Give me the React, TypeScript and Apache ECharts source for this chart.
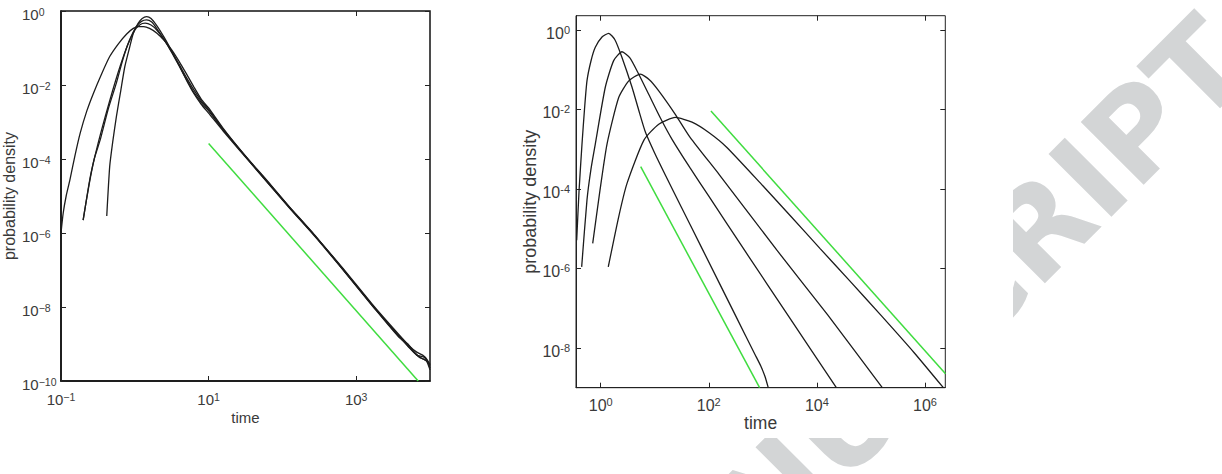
import React, { useEffect, useRef } from "react";
import * as echarts from "echarts";

// ---------- data: [log10(time), log10(probability density)] ----------
// Left panel
const leftCurveA: number[][] = [
  [-1.0, -6.0], [-0.97, -5.46], [-0.93, -5.0], [-0.88, -4.57], [-0.81, -3.9], [-0.74, -3.3],
  [-0.65, -2.7], [-0.56, -2.22], [-0.45, -1.7], [-0.34, -1.23], [-0.22, -0.88], [-0.11, -0.62],
  [-0.02, -0.47], [0.05, -0.42], [0.12, -0.42], [0.2, -0.47], [0.3, -0.6], [0.4, -0.8],
  [0.5, -1.05], [0.6, -1.36], [0.7, -1.7], [0.8, -2.05], [0.9, -2.38], [1.0, -2.62],
  [1.19, -3.15], [1.4, -3.68], [1.6, -4.15], [1.8, -4.6], [2.09, -5.29], [2.43, -6.05],
  [2.81, -6.95], [3.24, -8.0], [3.58, -8.8], [3.75, -9.15], [3.85, -9.35], [3.92, -9.42],
  [3.97, -9.5], [4.0, -9.65],
];
const leftCurveB: number[][] = [
  [-0.7, -5.65], [-0.62, -4.7], [-0.55, -4.0], [-0.47, -3.49], [-0.36, -2.65], [-0.25, -1.95],
  [-0.16, -1.3], [-0.07, -0.78], [0.02, -0.42], [0.09, -0.28], [0.16, -0.24], [0.23, -0.3],
  [0.3, -0.48], [0.4, -0.78], [0.5, -1.12], [0.6, -1.48], [0.7, -1.85], [0.8, -2.2],
  [0.9, -2.47], [1.0, -2.7], [1.2, -3.22], [1.6, -4.17], [2.09, -5.3], [2.43, -6.05],
  [2.81, -6.93], [3.24, -7.98], [3.58, -8.75], [3.72, -9.05], [3.82, -9.22], [3.9, -9.3],
  [3.96, -9.42], [4.0, -9.58],
];
const leftCurveC: number[][] = [
  [-0.38, -5.54], [-0.34, -4.2], [-0.3, -3.55], [-0.25, -2.86], [-0.19, -2.15], [-0.135, -1.5],
  [-0.07, -0.98], [-0.02, -0.6], [0.045, -0.33], [0.1, -0.2], [0.16, -0.15], [0.22, -0.2],
  [0.3, -0.4], [0.4, -0.72], [0.5, -1.08], [0.6, -1.47], [0.7, -1.87], [0.8, -2.23],
  [0.9, -2.52], [1.0, -2.76], [1.2, -3.25], [1.6, -4.18], [2.09, -5.31], [2.43, -6.07],
  [2.81, -6.97], [3.24, -8.02], [3.58, -8.82], [3.7, -9.0], [3.8, -9.25], [3.88, -9.38],
  [3.95, -9.45], [4.0, -9.7],
];
const leftCurveD: number[][] = [
  [-0.7, -5.65], [-0.6, -4.45], [-0.5, -3.6], [-0.4, -2.85], [-0.3, -2.15], [-0.2, -1.5],
  [-0.1, -0.93], [0.0, -0.52], [0.07, -0.37], [0.14, -0.33], [0.22, -0.38], [0.3, -0.52],
  [0.4, -0.78], [0.5, -1.1], [0.6, -1.44], [0.7, -1.8], [0.8, -2.13], [0.9, -2.42],
  [1.0, -2.66], [1.2, -3.2], [1.6, -4.16], [2.09, -5.28], [2.43, -6.04], [2.81, -6.96],
  [3.24, -8.01], [3.58, -8.78], [3.72, -9.1], [3.82, -9.3], [3.92, -9.36], [4.0, -9.55],
];
const leftSlope: number[][] = [[1.0, -3.58], [3.84, -10.0]];

// Right panel
const rightCurveA: number[][] = [
  [-0.444, -5.29], [-0.4, -4.03], [-0.346, -2.87], [-0.3, -2.0], [-0.254, -1.28], [-0.18, -0.78],
  [-0.1, -0.436], [0.024, -0.176], [0.148, -0.083], [0.265, -0.25], [0.394, -0.69], [0.58, -1.44],
  [0.7, -2.0], [0.83, -2.58], [1.0, -3.1], [1.2, -3.66], [1.5, -4.48], [1.876, -5.5],
  [2.5, -7.2], [2.857, -8.17], [2.96, -8.45], [3.04, -8.72], [3.1, -9.0],
];
const rightCurveB: number[][] = [
  [-0.352, -5.96], [-0.254, -4.28], [-0.18, -3.5], [-0.1, -2.87], [0.085, -1.44], [0.24, -0.77],
  [0.394, -0.547], [0.54, -0.7], [0.7, -1.1], [0.9, -1.65], [1.1, -2.2], [1.32, -2.75],
  [1.654, -3.47], [2.0, -4.18], [2.67, -5.56], [3.5, -7.25], [4.36, -9.0],
];
const rightCurveC: number[][] = [
  [-0.148, -5.37], [-0.013, -4.03], [0.117, -2.87], [0.333, -1.7], [0.52, -1.28], [0.733, -1.11],
  [0.9, -1.25], [1.074, -1.53], [1.38, -2.12], [1.654, -2.7], [2.2, -3.65], [3.26, -5.54],
  [4.2, -7.17], [5.21, -9.0],
];
const rightCurveD: number[][] = [
  [0.14, -5.96], [0.333, -4.7], [0.487, -3.86], [0.8, -2.77], [1.074, -2.37], [1.38, -2.2],
  [1.69, -2.32], [2.0, -2.58], [2.33, -2.95], [3.0, -3.92], [3.5, -4.66], [4.06, -5.5],
  [4.6, -6.3], [5.2, -7.2], [5.8, -8.12], [6.34, -9.0],
];
const rightSlopeSteep: number[][] = [[0.74, -3.44], [2.94, -9.0]];
const rightSlopeShallow: number[][] = [[2.04, -2.04], [6.38, -8.65]];

// Axis ranges and tick exponents
const leftXRange = [-1, 4];
const leftYRange = [-10, 0];
const leftXTicks = [-1, 1, 3];
const leftYTicks = [-10, -8, -6, -4, -2, 0];
const rightXRange = [-0.457, 6.376];
const rightYRange = [-9.0, 0.36];
const rightXTicks = [0, 2, 4, 6];
const rightYTicks = [-8, -6, -4, -2, 0];

const WATERMARK = "ACCEPTED MANUSCRIPT";

const FONT = '"Liberation Sans", Arial, Helvetica, sans-serif';
const TEXT = "#3a3a3a";
const CURVE = "#1c1c1c";
const GREEN = "#3fdc3f";

function makeRich(base: number, sup: number, raise: number) {
  return {
    b: { fontSize: base, fontFamily: FONT, color: TEXT, lineHeight: base + 1, verticalAlign: "bottom" },
    s: { fontSize: sup, fontFamily: FONT, color: TEXT, lineHeight: sup, padding: [0, 0, raise, 0], verticalAlign: "top" },
  };
}
function powLabel(minus: string) {
  return (v: number) => {
    const e = Math.round(v);
    const s = e < 0 ? minus + Math.abs(e) : String(e);
    return `{b|10}{s|${s}}`;
  };
}

function watermarkElements() {
  const font = 'bold 122px "DejaVu Sans"';
  const endX = 1228;
  const endY = 41;
  const c = Math.SQRT1_2;
  const canvas = document.createElement("canvas");
  const ctx = canvas.getContext("2d");
  const measure = (s: string) => {
    if (!ctx) return s.length * 80;
    ctx.font = font;
    return ctx.measureText(s).width;
  };
  const total = measure(WATERMARK);
  const els: any[] = [];
  for (let i = 0; i < WATERMARK.length; i++) {
    const ch = WATERMARK[i];
    if (ch === " ") continue;
    const pre = measure(WATERMARK.slice(0, i));
    const w = measure(ch);
    const d = total - pre - w / 2;
    const cx = endX - d * c;
    const cy = endY + d * c;
    const visibleRight = cx > 940;
    const visibleBottom = cy > 380 && cy < 540 && cx > 680;
    if (!(visibleRight || visibleBottom)) continue;
    els.push({
      type: "text", x: cx, y: cy, rotation: Math.PI / 4, z: 0, silent: true,
      style: { text: ch, font, fill: "#d3d5d6", align: "center", verticalAlign: "middle" },
    });
  }
  return els;
}

export default function App() {
  const ref = useRef<HTMLDivElement>(null);
  useEffect(() => {
    if (!ref.current) return;
    const chart = echarts.init(ref.current, undefined, { renderer: "svg" });

    const frameL = { show: true, onZero: false, lineStyle: { color: "#111", width: 1.5 } };
    const frameR = { show: true, onZero: false, lineStyle: { color: "#222", width: 1 } };
    const hiddenLine = { show: false, onZero: false };
    const tick = (vals: number[]) => ({
      show: true,
      inside: true,
      length: 5,
      customValues: vals,
      lineStyle: { color: "#222", width: 1 },
    });
    const noLabel = { show: false };

    const line = (data: number[][], xi: number, yi: number, color: string, w = 1.3) => ({
      type: "line",
      data,
      xAxisIndex: xi,
      yAxisIndex: yi,
      showSymbol: false,
      symbol: "none",
      smooth: 0.2,
      clip: true,
      z: 6,
      lineStyle: { color, width: w },
    });

    const option: any = {
      animation: false,
      backgroundColor: "#ffffff",
      grid: [
        {
          left: 61, top: 11, width: 369, height: 370, containLabel: false, outerBoundsMode: "none",
          show: true, z: 4, backgroundColor: "transparent", borderColor: "#111", borderWidth: 1.5,
        },
        {
          left: 576, top: 15.7, width: 369.3, height: 372, containLabel: false, outerBoundsMode: "none",
          show: true, z: 4, backgroundColor: "transparent", borderColor: "#222", borderWidth: 1,
        },
      ],
      xAxis: [
        {
          gridIndex: 0, type: "value", position: "bottom", min: leftXRange[0], max: leftXRange[1], z: 5,
          axisLine: frameL, axisTick: tick(leftXTicks), splitLine: { show: false },
          axisLabel: { customValues: leftXTicks, formatter: powLabel("\u2212"), rich: makeRich(15, 10.5, 11), margin: 10 },
          name: "time", nameLocation: "middle", nameGap: 28.5, nameMoveOverlap: false,
          nameTextStyle: { fontFamily: FONT, fontSize: 15, color: TEXT },
        },
        {
          gridIndex: 0, type: "value", position: "top", min: leftXRange[0], max: leftXRange[1], z: 5,
          axisLine: hiddenLine, axisTick: tick(leftXTicks), splitLine: { show: false }, axisLabel: noLabel,
        },
        {
          gridIndex: 1, type: "value", position: "bottom", min: rightXRange[0], max: rightXRange[1], z: 5,
          axisLine: frameR, axisTick: tick(rightXTicks), splitLine: { show: false },
          axisLabel: { customValues: rightXTicks, formatter: powLabel("-"), rich: makeRich(16, 11, 11), margin: 9 },
          name: "time", nameLocation: "middle", nameGap: 26.5, nameMoveOverlap: false,
          nameTextStyle: { fontFamily: FONT, fontSize: 17.5, color: TEXT },
        },
        {
          gridIndex: 1, type: "value", position: "top", min: rightXRange[0], max: rightXRange[1], z: 5,
          axisLine: hiddenLine, axisTick: tick(rightXTicks), splitLine: { show: false }, axisLabel: noLabel,
        },
      ],
      yAxis: [
        {
          gridIndex: 0, type: "value", position: "left", min: leftYRange[0], max: leftYRange[1], z: 5,
          axisLine: frameL, axisTick: tick(leftYTicks), splitLine: { show: false },
          axisLabel: {
            customValues: leftYTicks, formatter: powLabel("\u2212"), rich: makeRich(15, 10.5, 11),
            margin: 39, padding: [6, 0, 0, 0], align: "left",
          },
          name: "probability density", nameLocation: "middle", nameGap: 44, nameMoveOverlap: false,
          nameTextStyle: { fontFamily: FONT, fontSize: 16, color: TEXT },
        },
        {
          gridIndex: 0, type: "value", position: "right", min: leftYRange[0], max: leftYRange[1], z: 5,
          axisLine: hiddenLine, axisTick: tick(leftYTicks), splitLine: { show: false }, axisLabel: noLabel,
        },
        {
          gridIndex: 1, type: "value", position: "left", min: rightYRange[0], max: rightYRange[1], z: 5,
          axisLine: frameR, axisTick: tick(rightYTicks), splitLine: { show: false },
          axisLabel: {
            customValues: rightYTicks, formatter: powLabel("-"), rich: makeRich(16, 11, 11),
            margin: 6, padding: [6, 0, 0, 0], align: "right",
          },
          name: "probability density", nameLocation: "middle", nameGap: 37, nameMoveOverlap: false,
          nameTextStyle: { fontFamily: FONT, fontSize: 18, color: TEXT },
        },
        {
          gridIndex: 1, type: "value", position: "right", min: rightYRange[0], max: rightYRange[1], z: 5,
          axisLine: hiddenLine, axisTick: tick(rightYTicks), splitLine: { show: false }, axisLabel: noLabel,
        },
      ],
      graphic: {
        elements: [
          ...watermarkElements(),
          {
            type: "rect", z: 1, silent: true,
            shape: { x: 0, y: 0, width: 1013, height: 438 },
            style: { fill: "#ffffff" },
          },
        ],
      },
      series: [
        line(leftCurveA, 0, 0, CURVE),
        line(leftCurveB, 0, 0, CURVE),
        line(leftCurveC, 0, 0, CURVE),
        line(leftCurveD, 0, 0, CURVE),
        line(leftSlope, 0, 0, GREEN, 1.5),
        line(rightCurveA, 2, 2, CURVE),
        line(rightCurveB, 2, 2, CURVE),
        line(rightCurveC, 2, 2, CURVE),
        line(rightCurveD, 2, 2, CURVE),
        line(rightSlopeSteep, 2, 2, GREEN, 1.5),
        line(rightSlopeShallow, 2, 2, GREEN, 1.5),
      ],
    };
    chart.setOption(option);
    return () => chart.dispose();
  }, []);
  return (
    <div
      ref={ref}
      style={{ position: "absolute", left: 0, top: 0, width: 1222, height: 474 }}
    />
  );
}
